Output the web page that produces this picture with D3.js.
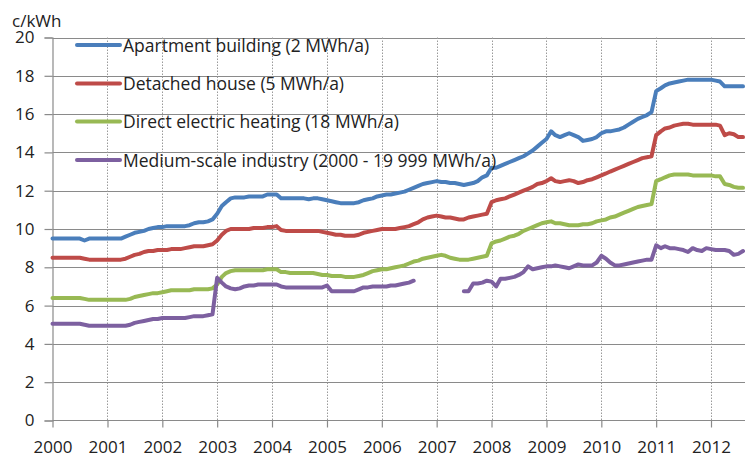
<!DOCTYPE html>
<html>
<head>
<meta charset="utf-8">
<script src="https://cdn.jsdelivr.net/npm/d3@7"></script>
<style>
  html, body { margin: 0; padding: 0; background: #fff; }
  svg { display: block; }
  text { font-family: "Open Sans", sans-serif; fill: #222; }
</style>
</head>
<body>
<svg id="chart" width="745" height="457"></svg>
<script>
// ---- Data (monthly, Jan 2000 – Aug 2012), c/kWh ----
const seriesNames = [
  "Apartment building (2 MWh/a)",
  "Detached house (5 MWh/a)",
  "Direct electric heating (18 MWh/a)",
  "Medium-scale industry (2000 - 19 999 MWh/a)"
];
const seriesColors = ["#4A7EBB", "#BE4B48", "#98B954", "#7D60A0"];
const yTicks = [0, 2, 4, 6, 8, 10, 12, 14, 16, 18, 20];
const xTickYears = [2000, 2001, 2002, 2003, 2004, 2005, 2006, 2007, 2008, 2009, 2010, 2011, 2012];
const startYear = 2000;

const apartment = [
  9.5,9.5,9.5,9.5,9.5,9.5,9.5,9.4,9.5,9.5,9.5,9.5,
  9.5,9.5,9.5,9.5,9.6,9.7,9.8,9.85,9.9,10.0,10.05,10.1,
  10.1,10.15,10.15,10.15,10.15,10.15,10.2,10.3,10.35,10.35,10.4,10.5,
  10.8,11.2,11.4,11.6,11.65,11.65,11.65,11.7,11.7,11.7,11.7,11.8,
  11.8,11.8,11.6,11.6,11.6,11.6,11.6,11.6,11.55,11.6,11.6,11.55,
  11.5,11.45,11.4,11.35,11.35,11.35,11.35,11.4,11.5,11.55,11.6,11.7,
  11.75,11.8,11.8,11.85,11.9,11.95,12.05,12.15,12.25,12.35,12.4,12.45,
  12.5,12.45,12.45,12.4,12.4,12.35,12.3,12.35,12.4,12.5,12.7,12.8,
  13.2,13.2,13.3,13.4,13.5,13.6,13.7,13.8,13.95,14.1,14.3,14.5,
  14.7,15.1,14.9,14.8,14.9,15.0,14.9,14.8,14.6,14.65,14.7,14.8,
  15.0,15.1,15.1,15.15,15.2,15.3,15.45,15.6,15.75,15.85,15.95,16.1,
  17.2,17.35,17.5,17.6,17.65,17.7,17.75,17.8,17.8,17.8,17.8,17.8,
  17.8,17.75,17.7,17.45,17.45,17.45,17.45,17.45
];
const detached = [
  8.5,8.5,8.5,8.5,8.5,8.5,8.5,8.45,8.4,8.4,8.4,8.4,
  8.4,8.4,8.4,8.4,8.45,8.55,8.65,8.7,8.8,8.85,8.85,8.9,
  8.9,8.9,8.95,8.95,8.95,9.0,9.05,9.1,9.1,9.1,9.15,9.2,
  9.4,9.7,9.9,10.0,10.0,10.0,10.0,10.0,10.05,10.05,10.05,10.1,
  10.1,10.15,9.95,9.9,9.9,9.9,9.9,9.9,9.9,9.9,9.9,9.85,
  9.8,9.75,9.7,9.7,9.65,9.65,9.65,9.7,9.8,9.85,9.9,9.95,
  10.0,10.0,10.0,10.0,10.05,10.1,10.15,10.25,10.35,10.5,10.6,10.65,
  10.7,10.65,10.6,10.6,10.55,10.5,10.5,10.6,10.65,10.7,10.75,10.8,
  11.4,11.5,11.55,11.6,11.7,11.8,11.9,12.0,12.1,12.2,12.35,12.4,
  12.5,12.65,12.5,12.45,12.5,12.55,12.5,12.4,12.45,12.55,12.6,12.7,
  12.8,12.9,13.0,13.1,13.2,13.3,13.4,13.5,13.6,13.7,13.75,13.8,
  14.9,15.1,15.25,15.3,15.4,15.45,15.5,15.5,15.45,15.45,15.45,15.45,
  15.45,15.45,15.4,14.9,15.0,14.95,14.8,14.8
];
const directHeating = [
  6.4,6.4,6.4,6.4,6.4,6.4,6.4,6.35,6.3,6.3,6.3,6.3,
  6.3,6.3,6.3,6.3,6.3,6.35,6.45,6.5,6.55,6.6,6.65,6.65,
  6.7,6.75,6.8,6.8,6.8,6.8,6.8,6.85,6.85,6.85,6.85,6.9,
  7.1,7.5,7.7,7.8,7.85,7.85,7.85,7.85,7.85,7.85,7.85,7.9,
  7.9,7.9,7.75,7.75,7.7,7.7,7.7,7.7,7.7,7.7,7.65,7.6,
  7.6,7.55,7.55,7.55,7.5,7.5,7.5,7.55,7.6,7.7,7.8,7.85,
  7.9,7.9,7.95,8.0,8.05,8.1,8.2,8.3,8.35,8.45,8.5,8.55,
  8.6,8.65,8.6,8.5,8.45,8.4,8.4,8.4,8.45,8.5,8.55,8.6,
  9.25,9.35,9.4,9.5,9.6,9.65,9.75,9.9,10.0,10.1,10.2,10.3,
  10.35,10.4,10.3,10.3,10.25,10.2,10.2,10.2,10.25,10.25,10.3,10.4,
  10.45,10.5,10.6,10.65,10.75,10.85,10.95,11.05,11.15,11.2,11.25,11.3,
  12.5,12.6,12.7,12.8,12.85,12.85,12.85,12.85,12.8,12.8,12.8,12.8,
  12.8,12.75,12.75,12.35,12.3,12.2,12.15,12.15
];
const industry = [
  5.05,5.05,5.05,5.05,5.05,5.05,5.05,5.0,4.95,4.95,4.95,4.95,
  4.95,4.95,4.95,4.95,4.95,5.0,5.1,5.15,5.2,5.25,5.3,5.3,
  5.35,5.35,5.35,5.35,5.35,5.35,5.4,5.45,5.45,5.45,5.5,5.55,
  7.45,7.2,7.0,6.9,6.85,6.9,7.0,7.05,7.05,7.1,7.1,7.1,
  7.1,7.1,7.0,6.95,6.95,6.95,6.95,6.95,6.95,6.95,6.95,6.95,
  7.05,6.75,6.75,6.75,6.75,6.75,6.75,6.85,6.95,6.95,7.0,7.0,
  7.0,7.0,7.05,7.05,7.1,7.15,7.2,7.3,null,null,null,null,
  null,null,null,null,null,null,6.75,6.75,7.15,7.15,7.2,7.3,
  7.25,7.0,7.4,7.4,7.45,7.5,7.6,7.75,8.05,7.9,7.95,8.0,
  8.05,8.05,8.1,8.05,8.0,7.95,8.05,8.15,8.1,8.1,8.1,8.25,
  8.6,8.45,8.25,8.1,8.1,8.15,8.2,8.25,8.3,8.35,8.4,8.4,
  9.15,9.0,9.1,9.0,9.0,8.95,8.9,8.8,9.0,8.9,8.85,9.0,
  8.95,8.9,8.9,8.9,8.85,8.65,8.7,8.85
];
const seriesValues = [apartment, detached, directHeating, industry];

// ---- Layout ----
const plotLeft = 52.5, plotRight = 745, plotTop = 37.5, plotBottom = 420.5;
const svg = d3.select("#chart");

const x = d3.scaleTime()
  .domain([new Date(2000, 0, 1), new Date(2012, 0, 1)])
  .range([plotLeft, 711]);
const y = d3.scaleLinear().domain([0, 20]).range([plotBottom, plotTop]);

const monthDate = i => new Date(startYear + Math.floor(i / 12), i % 12, 1);

// Horizontal gridlines
svg.append("g")
  .selectAll("line").data(yTicks.filter(v => v > 0)).join("line")
  .attr("x1", plotLeft).attr("x2", plotRight)
  .attr("y1", d => Math.round(y(d)) + 0.5).attr("y2", d => Math.round(y(d)) + 0.5)
  .attr("stroke", "#8a8a8a").attr("stroke-width", 1.2);

// Vertical dotted gridlines
svg.append("g")
  .selectAll("line").data(xTickYears.filter(v => v > 2000)).join("line")
  .attr("x1", d => Math.round(x(new Date(d, 0, 1))) + 0.5)
  .attr("x2", d => Math.round(x(new Date(d, 0, 1))) + 0.5)
  .attr("y1", plotTop).attr("y2", plotBottom)
  .attr("stroke", "#9a9a9a").attr("stroke-width", 1)
  .attr("stroke-dasharray", "1.5,1.5");

// Y axis
const yAxis = d3.axisLeft(y).tickValues(yTicks).tickSize(8).tickPadding(10).tickFormat(d3.format("d"));
const gy = svg.append("g").attr("transform", `translate(${plotLeft},0)`).call(yAxis);
gy.select(".domain").attr("stroke", "#8a8a8a").attr("stroke-width", 1.2);
gy.selectAll(".tick line").attr("stroke", "#8a8a8a").attr("stroke-width", 1.2);
gy.selectAll(".tick text").attr("font-size", 17).attr("fill", "#222").attr("font-family", "Open Sans, sans-serif");

// X axis
const xAxis = d3.axisBottom(x)
  .tickValues(xTickYears.map(v => new Date(v, 0, 1)))
  .tickSize(7).tickPadding(13).tickFormat(d3.timeFormat("%Y"));
const gx = svg.append("g").attr("transform", `translate(0,${plotBottom})`).call(xAxis);
gx.select(".domain").remove();
gx.append("line").attr("x1", plotLeft).attr("x2", plotRight).attr("y1", 0).attr("y2", 0)
  .attr("stroke", "#8a8a8a").attr("stroke-width", 1.2);
gx.selectAll(".tick line").attr("stroke", "#8a8a8a").attr("stroke-width", 1.2);
gx.selectAll(".tick text").attr("font-size", 17).attr("fill", "#222").attr("font-family", "Open Sans, sans-serif");

// Unit label
svg.append("text").attr("x", 12).attr("y", 27).attr("font-size", 17).text("c/kWh");

// Lines
const line = d3.line()
  .defined(d => d.v != null)
  .x(d => x(d.date))
  .y(d => y(d.v));

seriesValues.forEach((vals, si) => {
  const pts = vals.map((v, i) => ({ date: monthDate(i), v }));
  svg.append("path").datum(pts)
    .attr("fill", "none")
    .attr("stroke", seriesColors[si])
    .attr("stroke-width", 4)
    .attr("stroke-linejoin", "round")
    .attr("stroke-linecap", "round")
    .attr("d", line);
});

// Legend
const legendY = [45, 83.5, 121.5, 160];
const lg = svg.append("g");
seriesNames.forEach((name, i) => {
  lg.append("line").attr("x1", 77).attr("x2", 120)
    .attr("y1", legendY[i]).attr("y2", legendY[i])
    .attr("stroke", seriesColors[i]).attr("stroke-width", 4).attr("stroke-linecap", "round");
  lg.append("text").attr("x", 123).attr("y", legendY[i] + 6.5)
    .attr("font-size", 17.5).text(name);
});
</script>
</body>
</html>
